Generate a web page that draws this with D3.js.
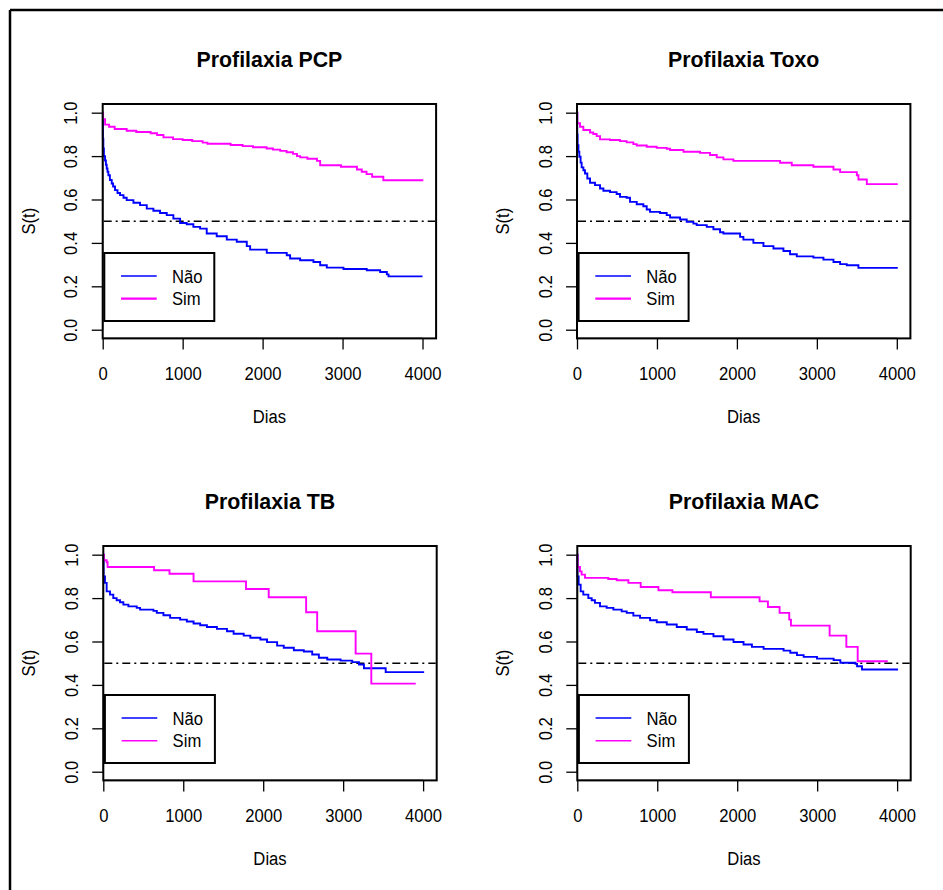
<!DOCTYPE html>
<html>
<head>
<meta charset="utf-8">
<script src="https://cdn.jsdelivr.net/npm/d3@7"></script>
<style>
  html, body { margin: 0; padding: 0; background: #fff; }
  svg { display: block; }
  text { font-family: "Liberation Sans", Arial, sans-serif; fill: #000; }
</style>
</head>
<body>
<svg id="chart" width="943" height="890"></svg>
<script>
// ---------------- data ----------------
const panelTitles = ["Profilaxia PCP", "Profilaxia Toxo", "Profilaxia TB", "Profilaxia MAC"];
const legendLabels = ["Não", "Sim"];
const xTicks = [0, 1000, 2000, 3000, 4000];
const yTicks = [0, 0.2, 0.4, 0.6, 0.8, 1.0];
const xLabel = "Dias";
const yLabel = "S(t)";

// Profilaxia PCP
const pcpNaoT = [0,2,8,15,29,40,50,60,71,90,113,130,154,185,217,260,300,384,467,551,634,717,801,884,968,1051,1134,1218,1301,1426,1552,1677,1802,1844,2052,2302,2344,2469,2636,2720,2803,3011,3303,3470,3554,3575,4000];
const pcpNaoS = [1,0.88,0.835,0.80,0.78,0.76,0.743,0.728,0.712,0.69,0.674,0.66,0.643,0.63,0.62,0.608,0.597,0.585,0.574,0.558,0.548,0.538,0.528,0.512,0.492,0.486,0.474,0.466,0.443,0.431,0.415,0.405,0.385,0.369,0.354,0.343,0.328,0.32,0.312,0.297,0.286,0.28,0.274,0.266,0.255,0.246,0.246];
const pcpSimT = [0,5,30,80,150,300,420,600,680,760,880,1000,1120,1250,1310,1600,1750,1880,2050,2130,2220,2300,2380,2430,2470,2560,2680,2720,2980,3180,3240,3300,3370,3510,4010];
const pcpSimS = [1,0.97,0.945,0.935,0.925,0.917,0.911,0.905,0.897,0.886,0.878,0.874,0.869,0.862,0.857,0.851,0.846,0.841,0.835,0.83,0.824,0.818,0.81,0.8,0.794,0.788,0.778,0.758,0.751,0.738,0.728,0.717,0.705,0.689,0.689];

// Profilaxia Toxo
const toxoNaoT = [0,3,8,18,29,45,58,80,100,129,163,225,288,330,413,496,538,621,663,747,830,872,913,1039,1122,1164,1289,1372,1456,1497,1623,1706,1789,1831,2040,2081,2206,2332,2457,2582,2665,2749,2957,3082,3208,3291,3374,3520,4012];
const toxoNaoS = [1,0.9,0.85,0.82,0.797,0.77,0.748,0.735,0.72,0.697,0.677,0.666,0.651,0.64,0.634,0.625,0.612,0.608,0.589,0.578,0.569,0.554,0.543,0.538,0.528,0.517,0.508,0.497,0.489,0.482,0.474,0.463,0.449,0.443,0.428,0.415,0.4,0.385,0.374,0.363,0.348,0.338,0.332,0.323,0.312,0.302,0.297,0.285,0.285];
const toxoSimT = [0,4,38,79,163,204,246,288,413,538,621,705,747,872,997,1122,1164,1331,1539,1664,1748,1831,1956,2540,2686,2957,3208,3291,3500,3520,3625,4012];
const toxoSimS = [1,0.951,0.935,0.92,0.909,0.902,0.892,0.877,0.874,0.869,0.863,0.855,0.849,0.843,0.838,0.834,0.828,0.82,0.815,0.805,0.794,0.785,0.778,0.769,0.758,0.751,0.738,0.726,0.712,0.692,0.671,0.671];

// Profilaxia TB
const tbNaoT = [0,4,21,42,84,125,167,209,251,314,418,460,627,669,752,836,961,1045,1129,1212,1296,1421,1547,1630,1756,1839,1965,2048,2174,2257,2383,2508,2613,2696,2801,2968,3114,3198,3260,3532,4013];
const tbNaoS = [1,0.9,0.87,0.831,0.816,0.8,0.79,0.781,0.77,0.762,0.755,0.747,0.741,0.732,0.721,0.709,0.701,0.692,0.683,0.675,0.667,0.658,0.647,0.636,0.627,0.617,0.609,0.597,0.581,0.571,0.56,0.554,0.54,0.525,0.517,0.512,0.505,0.494,0.477,0.459,0.459];
const tbSimT = [0,8,42,54,635,828,1129,1785,2069,2537,2675,3156,3352,3908];
const tbSimS = [1,0.974,0.965,0.943,0.928,0.912,0.877,0.842,0.804,0.735,0.647,0.544,0.406,0.406];

// Profilaxia MAC
const macNaoT = [0,2,17,42,75,138,180,221,284,367,451,555,618,701,785,910,994,1119,1244,1369,1495,1578,1703,1829,1954,2079,2184,2330,2580,2664,2747,2831,2998,3206,3290,3478,3499,3561,4012];
const macNaoS = [1,0.9,0.862,0.831,0.816,0.8,0.79,0.778,0.762,0.755,0.747,0.739,0.732,0.719,0.709,0.698,0.689,0.678,0.667,0.655,0.644,0.635,0.624,0.609,0.598,0.586,0.575,0.566,0.558,0.548,0.537,0.529,0.521,0.514,0.502,0.497,0.486,0.471,0.471];
const macSimT = [0,4,33,54,96,388,493,639,793,1015,1190,1670,2280,2384,2530,2651,2672,3156,3365,3507,3883];
const macSimS = [1,0.943,0.923,0.908,0.893,0.888,0.882,0.87,0.851,0.836,0.827,0.804,0.785,0.759,0.732,0.701,0.673,0.627,0.575,0.509,0.509];

const seriesColors = ["#0000ff", "#ff00ff"];
const medianLine = 0.5;

// ---------------- layout ----------------
const svg = d3.select("#chart");
const W = 943, H = 890;
const FS = "18.5px";          // label font size
const SQ = "scale(0.9,1)";     // slight horizontal condensing, as in the source image

// outer frame (left and top edges)
svg.append("line").attr("x1", 10).attr("y1", 10).attr("x2", W).attr("y2", 10)
  .attr("stroke", "#000").attr("stroke-width", 2.5);
svg.append("line").attr("x1", 10).attr("y1", 10).attr("x2", 10).attr("y2", H)
  .attr("stroke", "#000").attr("stroke-width", 2.5);

const panels = [
  { title: panelTitles[0], left: 102.7, top: 104, series: [[pcpNaoT, pcpNaoS], [pcpSimT, pcpSimS]], legW: [1.4, 2.2] },
  { title: panelTitles[1], left: 577,   top: 104, series: [[toxoNaoT, toxoNaoS], [toxoSimT, toxoSimS]], legW: [1.4, 2.2] },
  { title: panelTitles[2], left: 103.3, top: 546, series: [[tbNaoT, tbNaoS], [tbSimT, tbSimS]], legW: [1.4, 1.4] },
  { title: panelTitles[3], left: 577.3, top: 546, series: [[macNaoT, macNaoS], [macSimT, macSimS]], legW: [1.4, 1.4] }
];
const PW = 333.4, PH = 234.4;

panels.forEach(p => {
  const g = svg.append("g");
  const x = d3.scaleLinear().domain([0, 4170]).range([p.left, p.left + PW]);
  const y = d3.scaleLinear().domain([-0.04, 1.04]).range([p.top + PH, p.top]);

  // title
  g.append("text")
    .attr("transform", `translate(${p.left + PW / 2},${p.top - 36.7}) scale(0.97,1)`)
    .attr("text-anchor", "middle")
    .style("font-size", "22px").style("font-weight", "bold")
    .text(p.title);

  // x axis
  const xAxis = d3.axisBottom(x).tickValues(xTicks).tickSize(11).tickPadding(4).tickFormat(d3.format("d"));
  const xa = g.append("g").attr("transform", `translate(0,${p.top + PH})`).call(xAxis);
  xa.select(".domain").attr("d", `M${x(0)},0H${x(4000)}`).attr("stroke-width", 1.2);
  xa.selectAll(".tick line").attr("stroke-width", 1.3);
  xa.selectAll(".tick text").attr("y", null).attr("dy", null)
    .attr("transform", `translate(0,41.2) ${SQ}`)
    .style("font-size", FS).style("font-family", '"Liberation Sans", Arial, sans-serif');

  // y axis
  const yAxis = d3.axisLeft(y).tickValues(yTicks).tickSize(11).tickFormat(d3.format(".1f"));
  const ya = g.append("g").attr("transform", `translate(${p.left},0)`).call(yAxis);
  ya.select(".domain").attr("d", `M0,${y(0)}V${y(1)}`).attr("stroke-width", 1.2);
  ya.selectAll(".tick line").attr("stroke-width", 1.3);
  ya.selectAll(".tick text")
    .attr("x", null).attr("dy", null)
    .attr("transform", `translate(-25.5,0) rotate(-90) ${SQ}`)
    .attr("text-anchor", "middle")
    .style("font-size", FS).style("font-family", '"Liberation Sans", Arial, sans-serif');

  // axis titles
  g.append("text")
    .attr("transform", `translate(${p.left + PW / 2},${p.top + PH + 85}) ${SQ}`)
    .attr("text-anchor", "middle")
    .style("font-size", FS)
    .text(xLabel);
  g.append("text")
    .attr("transform", `translate(${p.left - 68},${p.top + PH / 2}) rotate(-90) ${SQ}`)
    .attr("text-anchor", "middle")
    .style("font-size", FS)
    .text(yLabel);

  // median reference line
  g.append("line")
    .attr("x1", p.left + 1).attr("x2", p.left + PW - 1)
    .attr("y1", y(medianLine)).attr("y2", y(medianLine))
    .attr("stroke", "#000").attr("stroke-width", 1.5)
    .attr("stroke-dasharray", "8,4,2,4");

  // survival step curves
  const line = d3.line().x(d => x(d[0])).y(d => y(d[1])).curve(d3.curveStepAfter);
  p.series.forEach((s, i) => {
    const pts = s[0].map((t, k) => [t, s[1][k]]);
    g.append("path").datum(pts)
      .attr("d", line)
      .attr("fill", "none")
      .attr("stroke", seriesColors[i])
      .attr("stroke-width", 1.9);
  });

  // plot box
  g.append("rect")
    .attr("x", p.left).attr("y", p.top).attr("width", PW).attr("height", PH)
    .attr("fill", "none").attr("stroke", "#000").attr("stroke-width", 2);

  // legend
  const lg = g.append("g");
  lg.append("rect")
    .attr("x", p.left + 1.6).attr("y", p.top + 149)
    .attr("width", 110).attr("height", 68)
    .attr("fill", "#fff").attr("stroke", "#000").attr("stroke-width", 2);
  legendLabels.forEach((lab, i) => {
    const ly = p.top + 172 + i * 22.7;
    lg.append("line")
      .attr("x1", p.left + 18.3).attr("x2", p.left + 54)
      .attr("y1", ly).attr("y2", ly)
      .attr("stroke", seriesColors[i]).attr("stroke-width", p.legW[i]);
    lg.append("text")
      .attr("transform", `translate(${p.left + 69.3},${ly}) ${SQ}`)
      .attr("dy", "0.36em")
      .style("font-size", FS)
      .text(lab);
  });
});
</script>
</body>
</html>
